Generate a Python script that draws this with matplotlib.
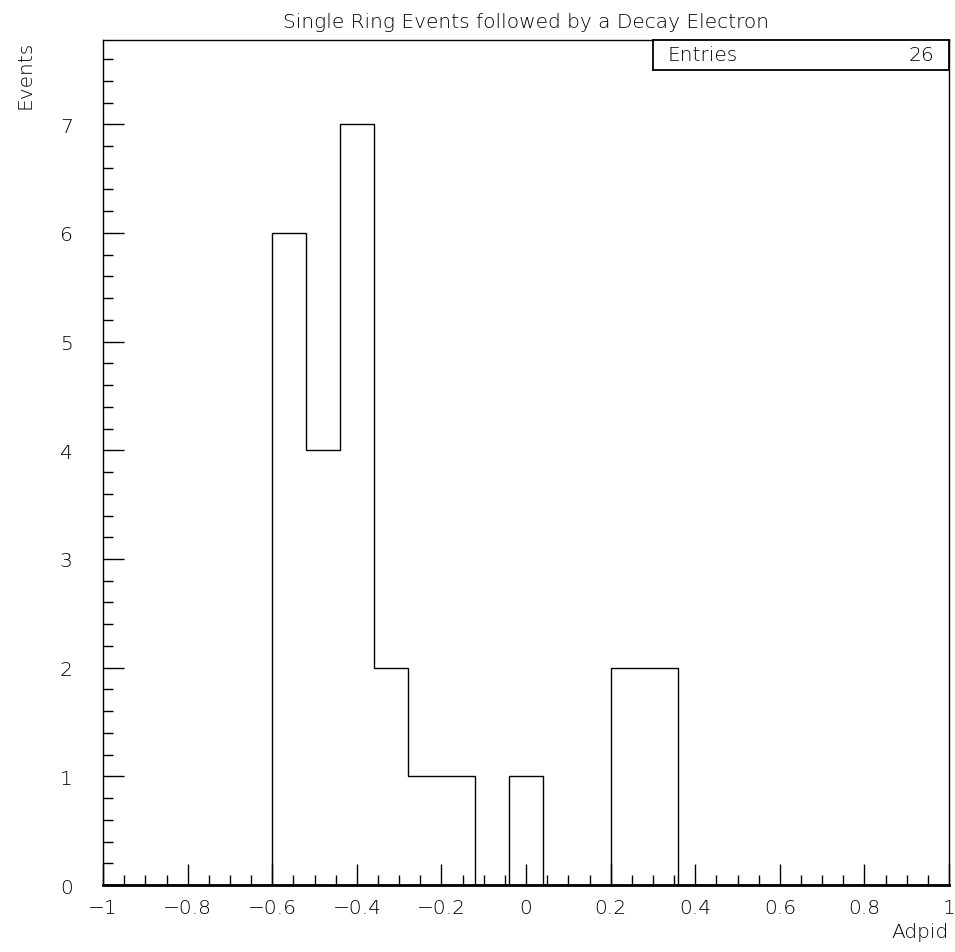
import numpy as np
import matplotlib
matplotlib.use("Agg")
import matplotlib.pyplot as plt
from matplotlib.ticker import MultipleLocator

# histogram contents (25 bins from -1 to 1)
bin_lo = -1.0
bin_hi = 1.0
counts = [0, 0, 0, 0, 0,
          6, 4, 7, 2, 1, 1, 0, 1, 0, 0, 2, 2,
          0, 0, 0, 0, 0, 0, 0, 0]
n_entries = 26
title = "Single Ring Events followed by a Decay Electron"
xlabel = "Adpid"
ylabel = "Events"

edges = np.linspace(bin_lo, bin_hi, len(counts) + 1)

FS = 14.5
plt.rcParams['font.family'] = ['DejaVu Sans']
plt.rcParams['font.weight'] = 'light'
plt.rcParams['text.color'] = 'black'

fig = plt.figure(figsize=(9.55, 9.53), dpi=100)
ax = fig.add_axes([0.108, 0.0703, 0.8857, 0.8872])

ax.stairs(counts, edges, color='black', linewidth=1.0, baseline=0)

ax.set_xlim(bin_lo, bin_hi)
ax.set_ylim(0, 7.78)

ax.xaxis.set_major_locator(MultipleLocator(0.2))
ax.xaxis.set_minor_locator(MultipleLocator(0.05))
ax.yaxis.set_major_locator(MultipleLocator(1))
ax.yaxis.set_minor_locator(MultipleLocator(0.2))
ax.tick_params(which='major', direction='in', length=15, width=1,
               labelsize=FS, pad=9, labelcolor='black')
ax.tick_params(which='minor', direction='in', length=7, width=1)
ax.tick_params(axis='y', which='major', pad=22)
ax.xaxis.set_major_formatter(plt.FuncFormatter(
    lambda v, p: ('%g' % round(v, 2)).replace('-', '\u2212')))
for lab in ax.get_xticklabels() + ax.get_yticklabels():
    lab.set_fontweight('light')

for s in ax.spines.values():
    s.set_linewidth(1.0)
ax.spines['bottom'].set_linewidth(2.0)

ax.set_title(title, fontsize=FS, fontweight='light', pad=9)
fig.text(0.108 + 0.8857, 0.0115, xlabel, ha='right', va='bottom',
         fontsize=FS, fontweight='light')
fig.text(0.026, 0.9575, ylabel, ha='center', va='top', rotation=90,
         fontsize=FS, fontweight='light')

# stats box
box = ax.inset_axes([0.65, 0.964, 0.35, 0.036])
box.set_xticks([])
box.set_yticks([])
for s in box.spines.values():
    s.set_linewidth(1.3)
box.text(0.05, 0.5, "Entries", ha='left', va='center', fontsize=FS,
         fontweight='light', transform=box.transAxes)
box.text(0.95, 0.5, str(n_entries), ha='right', va='center', fontsize=FS,
         fontweight='light', transform=box.transAxes)

fig.savefig("out.png", dpi=100)
